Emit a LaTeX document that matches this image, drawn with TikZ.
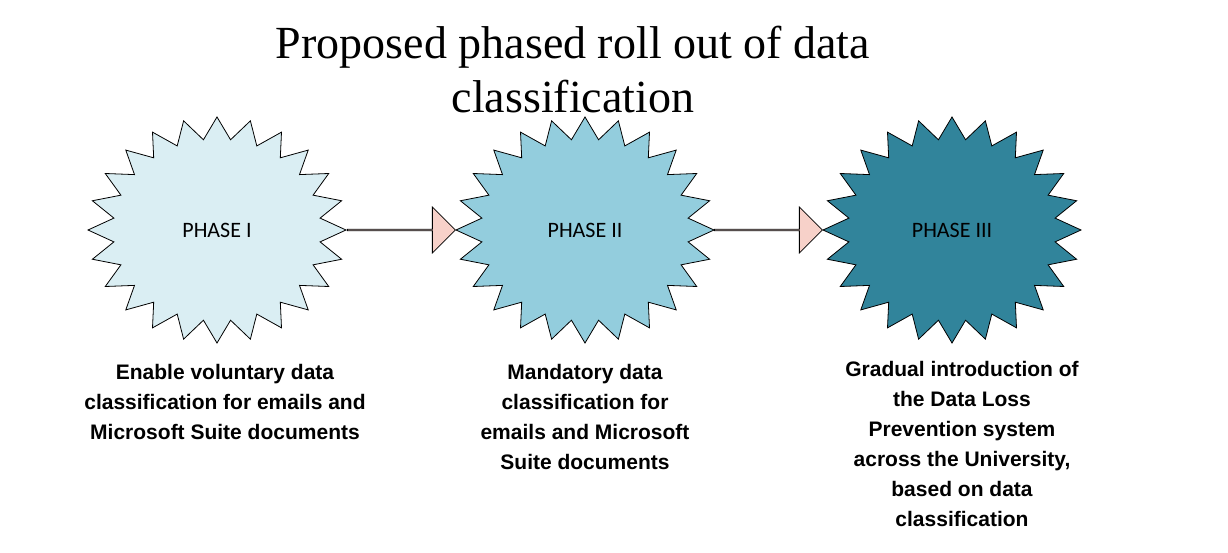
\documentclass[tikz,border=0pt]{standalone}
\usepackage{fontspec}
\setmainfont{Liberation Serif}
\newfontfamily\bodyf{Liberation Sans}
\newfontfamily\phf{Carlito}
\usetikzlibrary{shapes.arrows}
\begin{document}
\begin{tikzpicture}[x=1pt,y=-1pt,
  phase/.style={font=\phf\fontsize{22}{26}\selectfont},
  desc/.style={font=\bodyf\bfseries\fontsize{21}{30}\selectfont,align=center},
  blk/.style={single arrow,draw=black,fill=red!45!orange!20!white,fill=pink!80!brown!60!white,minimum height=108pt,single arrow head extend=12pt,minimum width=46pt,inner sep=0pt,line width=0.8pt}]
\useasboundingbox (0,0) rectangle (1228,553);
\definecolor{c1}{HTML}{DAEEF3}\definecolor{c2}{HTML}{93CDDD}\definecolor{c3}{HTML}{31849B}
\node[font=\fontsize{46}{54}\selectfont,align=center] (title) at (573,70) {Proposed phased roll out of data\\classification};
\foreach \cx/\col/\n/\t in {217/c1/p1/PHASE I,585/c2/p2/PHASE II,952/c3/p3/PHASE III}{
  \draw[fill=\col,line width=0.8pt] plot[samples at={0,...,47}] ({\cx+(mod(\x,2)==0 ? 129 : 104)*cos(90+\x*7.5)},{230-(mod(\x,2)==0 ? 113 : 91)*sin(90+\x*7.5)}) -- cycle;
  \node[phase] (\n) at (\cx,230) {\t};
}
\node[blk] (a1) at (401,230) {};
\node[blk] (a2) at (768,230) {};
\node[desc] (d1) at (225,402) {Enable voluntary data\\classification for emails and\\Microsoft Suite documents};
\node[desc] (d2) at (585,417) {Mandatory data\\classification for\\emails and Microsoft\\Suite documents};
\node[desc] (d3) at (962,444) {Gradual introduction of\\the Data Loss\\Prevention system\\across the University,\\based on data\\classification};
\end{tikzpicture}
\end{document}
